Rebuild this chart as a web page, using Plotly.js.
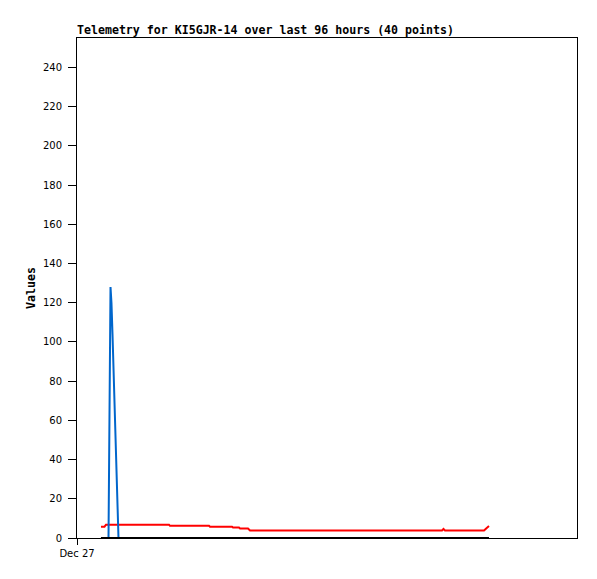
<!DOCTYPE html>
<html>
<head>
<meta charset="utf-8">
<script src="https://cdn.plot.ly/plotly-3.0.1.min.js"></script>
<style>html,body{margin:0;padding:0;background:#fff}#chart{width:597px;height:579px}</style>
</head>
<body>
<div id="chart"></div>
<script>
const times = [
  "2024-12-27 04:36","2024-12-27 05:17","2024-12-27 05:34","2024-12-27 06:03",
  "2024-12-27 06:26","2024-12-27 06:37","2024-12-27 06:49","2024-12-27 07:00",
  "2024-12-27 07:12","2024-12-27 07:23","2024-12-27 07:35","2024-12-27 07:47",
  "2024-12-27 07:58","2024-12-27 09:13","2024-12-27 11:08","2024-12-27 14:01",
  "2024-12-27 17:40","2024-12-27 17:51","2024-12-27 21:42","2024-12-28 01:21",
  "2024-12-28 01:32","2024-12-28 05:46","2024-12-28 05:57","2024-12-28 07:06",
  "2024-12-28 07:18","2024-12-28 08:50","2024-12-28 09:13","2024-12-28 14:59",
  "2024-12-28 20:44","2024-12-29 02:30","2024-12-29 08:15","2024-12-29 14:01",
  "2024-12-29 19:47","2024-12-29 22:05","2024-12-29 22:22","2024-12-29 22:39",
  "2024-12-30 03:27","2024-12-30 06:09","2024-12-30 06:37","2024-12-30 07:06"
];
const redValues = [
  5.8,5.8,6.8,6.8, 6.8,6.8,6.8,6.8, 6.8,6.8,6.8,6.8, 6.8,6.8,6.8,6.8,
  6.8,6.2,6.2,6.2, 5.7,5.7,5.3,5.3, 4.8,4.8,3.8,3.8, 3.8,3.8,3.8,3.8,
  3.8,3.8,4.6,3.8, 3.8,3.8,5.0,6.1
];
const blueValues = [
  0,0,0,0, 128,120,104,88, 72,56,40,24, 0,0,0,0,
  0,0,0,0, 0,0,0,0, 0,0,0,0, 0,0,0,0,
  0,0,0,0, 0,0,0,0
];
const blackValues = new Array(times.length).fill(0);
const xTickValues = ["2024-12-27 00:00"];
const xTickLabels = ["Dec 27"];
const yTickValues = [0,20,40,60,80,100,120,140,160,180,200,220,240];

const traces = [
  {x: times, y: redValues, type: "scatter", mode: "lines", line: {color: "#ff0000", width: 2}, hoverinfo: "skip"},
  {x: times, y: blueValues, type: "scatter", mode: "lines", line: {color: "#0066cc", width: 2}, hoverinfo: "skip"},
  {x: times, y: blackValues, type: "scatter", mode: "lines", line: {color: "#000000", width: 2}, hoverinfo: "skip"}
];

const layout = {
  width: 597, height: 579,
  margin: {l: 77, r: 20, t: 38, b: 41},
  paper_bgcolor: "#ffffff", plot_bgcolor: "#ffffff",
  showlegend: false,
  title: {
    text: "Telemetry for KI5GJR-14 over last 96 hours (40 points)",
    font: {family: "DejaVu Sans Mono", size: 11.6, color: "#000", weight: "bold"},
    xref: "container", yref: "container",
    x: 77/597, xanchor: "left", y: 1 - 30/579, yanchor: "middle"
  },
  xaxis: {
    type: "date",
    range: ["2024-12-27 00:00", "2024-12-31 00:00"],
    tickmode: "array", tickvals: xTickValues, ticktext: xTickLabels,
    ticks: "outside", ticklen: 6, tickcolor: "#000", tickwidth: 1,
    showline: true, linecolor: "#000", linewidth: 1, mirror: true,
    showgrid: false, zeroline: false,
    tickfont: {family: "DejaVu Sans", size: 10, color: "#000"},
    fixedrange: true
  },
  yaxis: {
    range: [0, 255],
    tickmode: "array", tickvals: yTickValues,
    ticks: "outside", ticklen: 8, tickcolor: "#000", tickwidth: 1,
    ticklabelstandoff: 4,
    showline: true, linecolor: "#000", linewidth: 1, mirror: true,
    showgrid: false, zeroline: false,
    tickfont: {family: "DejaVu Sans", size: 10, color: "#000"},
    title: {text: "Values", font: {family: "DejaVu Sans Mono", size: 11.6, color: "#000", weight: "bold"}, standoff: 4},
    fixedrange: true
  }
};

Plotly.newPlot("chart", traces, layout, {displayModeBar: false, staticPlot: true});
</script>
</body>
</html>
